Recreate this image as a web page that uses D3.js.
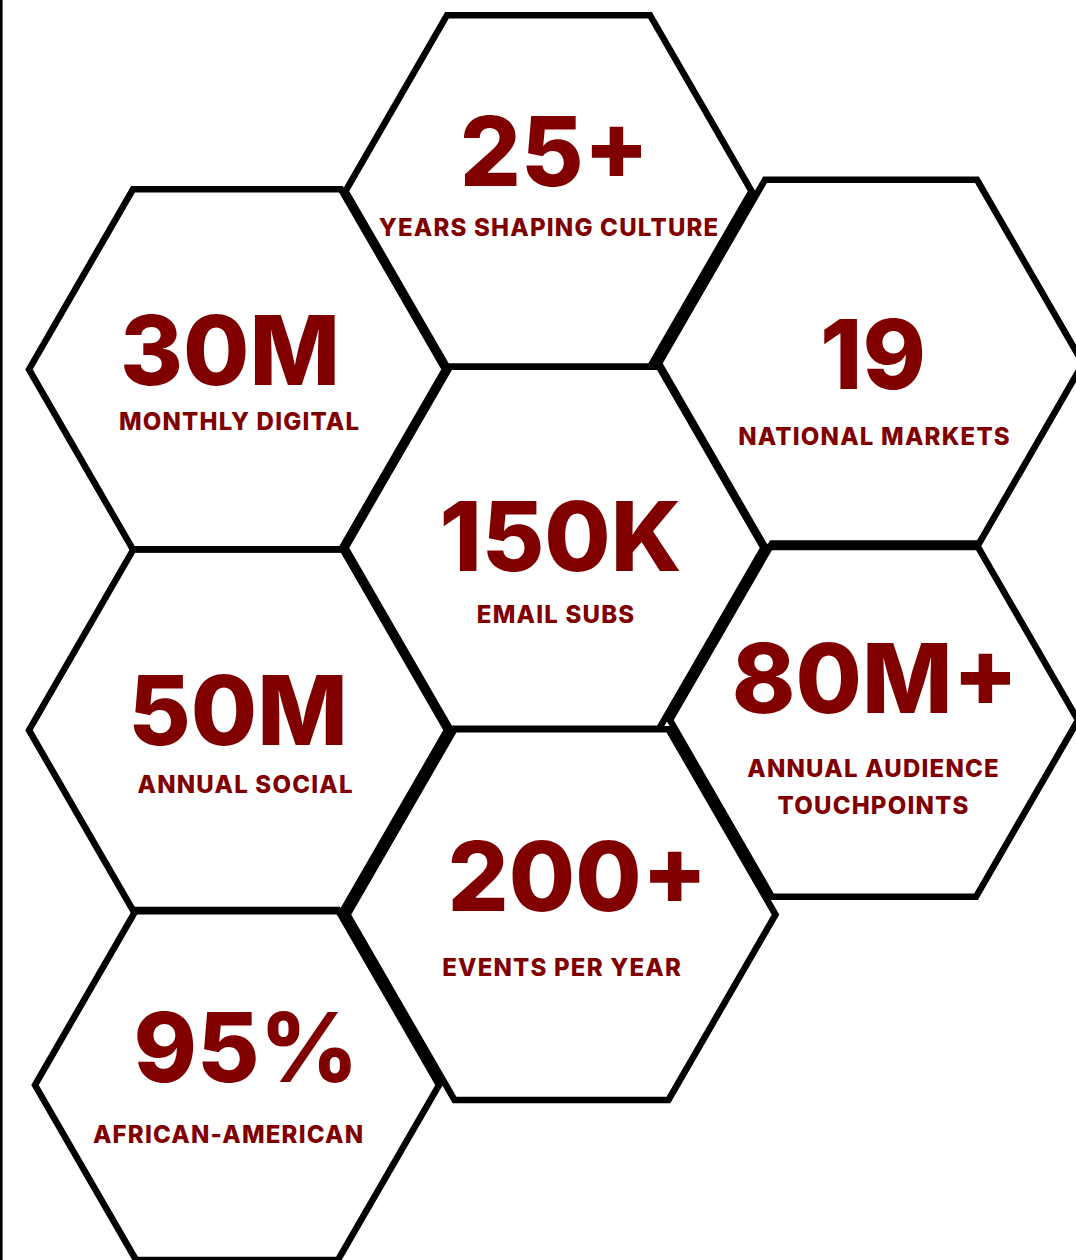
<!DOCTYPE html>
<html>
<head>
<meta charset="utf-8">
<script src="https://cdn.jsdelivr.net/npm/d3@7"></script>
<style>
  html, body { margin: 0; padding: 0; background: #fff; }
  svg { display: block; }
</style>
</head>
<body>
<div id="chart"></div>
<script>
// ---- data ----
const values = ["25+", "30M", "19", "150K", "50M", "80M+", "200+", "95%"];
const labels = [
  ["YEARS SHAPING CULTURE"],
  ["MONTHLY DIGITAL"],
  ["NATIONAL MARKETS"],
  ["EMAIL SUBS"],
  ["ANNUAL SOCIAL"],
  ["ANNUAL AUDIENCE", "TOUCHPOINTS"],
  ["EVENTS PER YEAR"],
  ["AFRICAN-AMERICAN"]
];
// honeycomb grid cell of each stat (column, half-row)
const gridCol = [1, 0, 2, 1, 0, 2, 1, 0];
const gridRow = [0, 1, 1, 2, 3, 3, 4, 5];

// ---- layout (hand-placed look of the original) ----
const W = 1076, H = 1260;
const baseRadius = 207;
// per-hex nudge: [dx, dy, dRadius]
const hexNudge = [[-6, 0, -4], [0, -1, 1], [-1, -7, 5], [0, -2, 2], [1, 1, 2], [2, -9, -3], [7, 6, 7], [0, -3, -5]];
// text offsets from hex centre: [numDx, numBaseDy, labDx, labBaseDy]
const textNudge = [[6, -5, 0, 45], [-7, 16, 2, 61], [2, 26, 3, 82], [6, 23, 1, 75],
                   [0, 15, 7, 63], [1, -7, -1, 57], [16, -4, 0, 61], [9, -3, -9, 58]];

const x = d3.scaleLinear().domain([0, 2]).range([237, 872]);
const y = d3.scaleLinear().domain([0, 5]).range([191, 1088]);

const maroon = "#800000";
const font = "Inter, 'Liberation Sans', sans-serif";

const svg = d3.select("#chart").append("svg")
  .attr("width", W).attr("height", H)
  .attr("viewBox", `0 0 ${W} ${H}`);

svg.append("line")
  .attr("x1", 1.3).attr("x2", 1.3).attr("y1", 0).attr("y2", H)
  .attr("stroke", "#000").attr("stroke-width", 2.6);

const items = values.map((v, i) => ({
  value: v,
  label: labels[i],
  cx: x(gridCol[i]) + hexNudge[i][0],
  cy: y(gridRow[i]) + hexNudge[i][1],
  r: baseRadius + hexNudge[i][2],
  t: textNudge[i]
}));

function hexPoints(cx, cy, r) {
  return d3.range(6).map(k => {
    const a = Math.PI / 3 * k;
    return [cx + r * Math.cos(a), cy + r * Math.sin(a)];
  });
}

const line = d3.line().curve(d3.curveLinearClosed);

const g = svg.selectAll("g.hex").data(items).join("g").attr("class", "hex");

g.append("path")
  .attr("d", d => line(hexPoints(d.cx, d.cy, d.r)))
  .attr("fill", "none")
  .attr("stroke", "#000")
  .attr("stroke-width", 6.5)
  .attr("stroke-linejoin", "miter");

g.append("text")
  .attr("x", d => d.cx + d.t[0])
  .attr("y", d => d.cy + d.t[1])
  .attr("text-anchor", "middle")
  .attr("font-family", font)
  .attr("font-weight", 800)
  .attr("font-size", 96)
  .attr("fill", maroon)
  .text(d => d.value);

g.each(function (d) {
  const sel = d3.select(this);
  d.label.forEach((ln, j) => {
    sel.append("text")
      .attr("x", d.cx + d.t[2] + 0.6)
      .attr("y", d.cy + d.t[3] + j * 37)
      .attr("text-anchor", "middle")
      .attr("font-family", font)
      .attr("font-weight", 800)
      .attr("font-size", 24)
      .attr("letter-spacing", 1.2)
      .attr("fill", maroon)
      .text(ln);
  });
});
</script>
</body>
</html>
